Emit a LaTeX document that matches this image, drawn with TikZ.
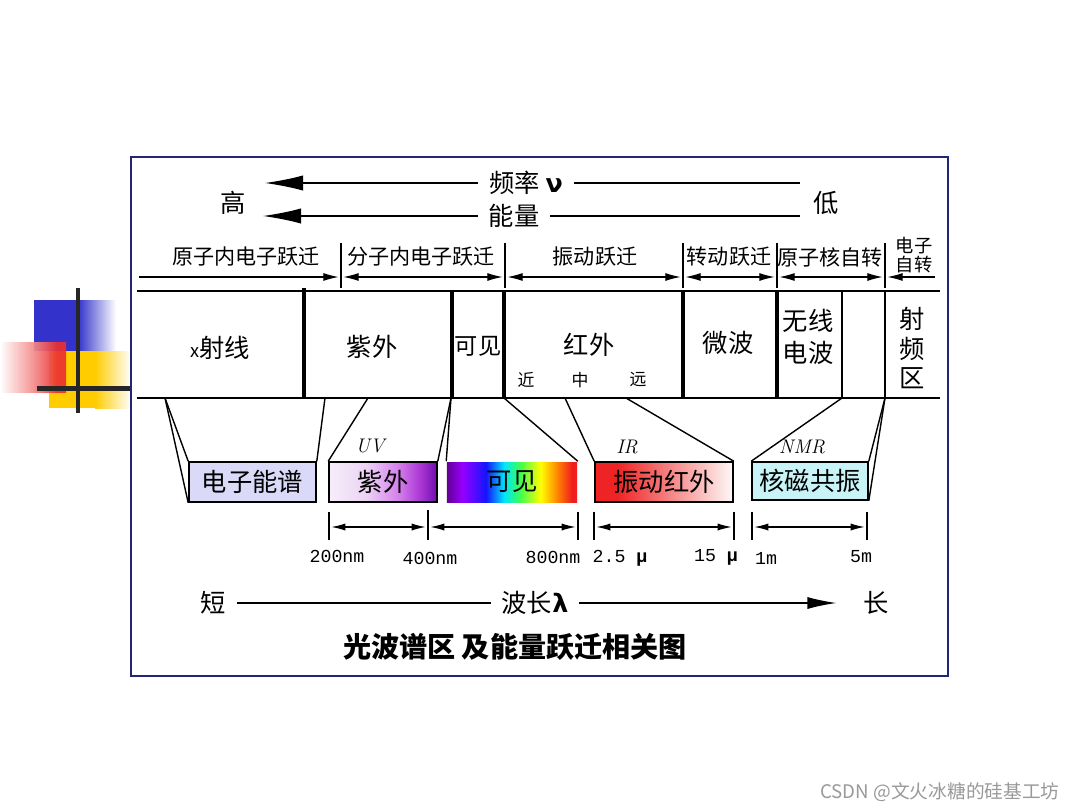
\documentclass[tikz,border=0pt]{standalone}
\usepackage{fontspec}
\usepackage{tikz}
\usetikzlibrary{arrows.meta}
\newfontfamily\cjk{Noto Sans CJK SC}
\newfontfamily\mono{Liberation Mono}
\newfontfamily\grk{DejaVu Sans}
\definecolor{frameblue}{RGB}{36,36,120}
\definecolor{lavender}{RGB}{218,218,248}
\definecolor{nmrcyan}{RGB}{200,244,248}
\definecolor{irred}{RGB}{238,36,36}
\definecolor{irwhite}{RGB}{255,248,248}
\definecolor{decoblue}{RGB}{51,51,204}
\definecolor{decoyellow}{RGB}{255,204,0}
\definecolor{decored}{RGB}{236,48,48}
\definecolor{rb1}{RGB}{100,0,150}
\definecolor{rb2}{RGB}{150,0,255}
\definecolor{rb3}{RGB}{20,20,255}
\definecolor{rb4}{RGB}{0,230,255}
\definecolor{rb5}{RGB}{60,255,80}
\definecolor{rb6}{RGB}{255,255,0}
\definecolor{rb7}{RGB}{255,140,0}
\definecolor{rb8}{RGB}{240,30,30}
\definecolor{uv0}{RGB}{246,238,250}
\definecolor{uv1}{RGB}{236,212,244}
\definecolor{uv2}{RGB}{214,128,236}
\definecolor{uv3}{RGB}{172,56,214}
\definecolor{uv4}{RGB}{110,14,176}
\pgfdeclarehorizontalshading{rainbow}{100bp}{color(0bp)=(rb1); color(25bp)=(rb1); color(31bp)=(rb2); color(40bp)=(rb3); color(47bp)=(rb4); color(53bp)=(rb5); color(61bp)=(rb6); color(67bp)=(rb7); color(73bp)=(rb8); color(100bp)=(rb8)}
\pgfdeclarehorizontalshading{uvshade}{100bp}{color(0bp)=(uv0); color(25bp)=(uv0); color(42bp)=(uv1); color(57bp)=(uv2); color(67bp)=(uv3); color(75bp)=(uv4); color(100bp)=(uv4)}
\pgfdeclarehorizontalshading{irshade}{100bp}{color(0bp)=(irred); color(25bp)=(irred); color(33bp)=(irred); color(75bp)=(irwhite); color(100bp)=(irwhite)}
\pgfdeclarehorizontalshading{redfade}{100bp}{color(0bp)=(white); color(25bp)=(white); color(50bp)=(decored!55); color(68bp)=(decored); color(75bp)=(decored); color(100bp)=(decored)}

\begin{document}
\begin{tikzpicture}[
    x=0.025cm, y=-0.025cm,
    lbl/.style={font=\cjk\fontsize{18}{22}\selectfont, inner ysep=0pt, inner xsep=0.27cm},
    trans/.style={font=\cjk\fontsize{15}{18}\selectfont, inner sep=0pt},
    band/.style={font=\cjk\fontsize{18}{22.8}\selectfont, inner sep=0pt, align=center},
    sub/.style={font=\cjk\fontsize{12}{14}\selectfont, inner sep=0pt},
    spec/.style={rectangle, draw, line width=1.1pt, minimum height=1cm, inner sep=0pt, font=\cjk\fontsize{18}{22}\selectfont},
    tag/.style={font=\itshape\fontsize{14}{16}\selectfont, inner sep=0pt},
    wl/.style={font=\mono\fontsize{13}{15}\selectfont, inner sep=0pt},
    thinln/.style={line width=0.8pt},
    bigarr/.style={line width=0.8pt, -{Latex[length=0.95cm, width=0.38cm]}},
    botarr/.style={line width=0.8pt, -{Latex[length=0.72cm, width=0.3cm]}},
    row/.style={line width=0.8pt, shorten <=0.06cm, shorten >=0.06cm},
    bar/.style={line width=2.8pt},
    feed/.style={line width=1pt}
]
    \useasboundingbox (0,0) rectangle (1080,810);
    \fill[white] (0,0) rectangle (1080,810);

    % slide decoration
    \fill[decoblue] (34,300) rectangle (78,351);
    \shade[left color=decoblue, right color=white] (78,300) rectangle (116,351);
    \fill[decoyellow] (49,351) rectangle (95,408);
    \shade[left color=decoyellow, right color=white] (95,351) rectangle (131,408);
    \shade[shading=redfade, opacity=0.92] (0,342) rectangle (66,392);
    \fill[black!85] (75.5,288) rectangle (79.5,413);
    \fill[black!85] (37,386) rectangle (131,391);

    % frame
    \draw[frameblue, line width=1.4pt] (131,157) rectangle (948,676);

    % frequency / energy
    \node[lbl] (gao) at (233,203) {高};
    \node[lbl] (di) at (826,203) {低};
    \node[lbl] (freq) at (526,183) {频率 {\grk\bfseries ν}};
    \node[lbl] (energy) at (514,216) {能量};
    \coordinate (fL) at (265,183);
    \coordinate (fR) at (800,183);
    \coordinate (eL) at (263,216);
    \coordinate (eR) at (800,216);
    \draw[bigarr] (freq.west) -- (fL);
    \draw[thinln] (freq.east) -- (fR);
    \draw[bigarr] (energy.west) -- (eL);
    \draw[thinln] (energy.east) -- (eR);

    % transitions
    \node[trans] (t1) at (246,257) {原子内电子跃迁};
    \node[trans] (t2) at (421,257) {分子内电子跃迁};
    \node[trans] (t3) at (595,257) {振动跃迁};
    \node[trans] (t4) at (729,257) {转动跃迁};
    \node[trans] (t5) at (830,257) {原子核自转};
    \node[sub, align=center, font=\cjk\fontsize{13}{14}\selectfont] (t6) at (914,255) {电子\\自转};

    \draw[thinln] (341,243) -- (341,288);
    \draw[thinln] (505,243) -- (505,288);
    \draw[thinln] (683,243) -- (683,288);
    \draw[thinln] (777,243) -- (777,288);
    \draw[thinln] (885,243) -- (885,288);

    \coordinate (s0) at (137,277);
    \coordinate (s1) at (341,277);
    \coordinate (s2) at (505,277);
    \coordinate (s3) at (683,277);
    \coordinate (s4) at (777,277);
    \coordinate (s5) at (885,277);
    \coordinate (s6) at (937,277);
    \draw[row, -{Latex[length=0.38cm, width=0.2cm]}] (s0) -- (s1);
    \draw[row, {Latex[length=0.38cm, width=0.2cm]}-{Latex[length=0.38cm, width=0.2cm]}] (s1) -- (s2);
    \draw[row, {Latex[length=0.38cm, width=0.2cm]}-{Latex[length=0.38cm, width=0.2cm]}] (s2) -- (s3);
    \draw[row, {Latex[length=0.38cm, width=0.2cm]}-{Latex[length=0.38cm, width=0.2cm]}] (s3) -- (s4);
    \draw[row, {Latex[length=0.38cm, width=0.2cm]}-{Latex[length=0.38cm, width=0.2cm]}] (s4) -- (s5);
    \draw[row, {Latex[length=0.38cm, width=0.2cm]}-] (s5) -- (s6);

    % band
    \draw[thinln] (137,291) -- (940,291);
    \draw[thinln] (137,398) -- (940,398);
    \draw[bar] (304,288) -- (304,398);
    \draw[bar] (452,291) -- (452,398);
    \draw[bar] (504,291) -- (504,398);
    \draw[bar] (683,291) -- (683,398);
    \draw[bar] (777,291) -- (777,398);
    \draw[thinln] (842,291) -- (842,398);
    \draw[thinln] (885,291) -- (885,398);

    \node[band] (xray) at (220,348) {{\fontsize{13}{15}\selectfont x}射线};
    \node[band] (uvb) at (372,347) {紫外};
    \node[band, font=\cjk\fontsize{16.5}{20}\selectfont] (visb) at (478,346) {可见};
    \node[band] (irb) at (589,345) {红外};
    \node[sub] (near) at (526,380) {近};
    \node[sub] (mid) at (580,380) {中};
    \node[sub] (far) at (638,380) {远};
    \node[band] (mwb) at (728,343) {微波};
    \node[band] (radiob) at (808,337) {无线\\电波};
    \node[band, font=\cjk\fontsize{18}{21.3}\selectfont] (rfb) at (912,348) {射\\频\\区};

    % spectra
    \node[spec, fill=lavender, minimum width=3.175cm] (ebox) at (252.5,482) {电子能谱};
    \node[spec, shade, shading=uvshade, minimum width=2.7cm] (uvbox) at (383,482) {紫外};
    \node[spec, draw=none, shade, shading=rainbow, minimum width=3.25cm] (visbox) at (512,482) {可见};
    \node[spec, shade, shading=irshade, minimum width=3.45cm] (irbox) at (664,482) {振动红外};
    \node[spec, fill=nmrcyan, minimum width=2.9cm, minimum height=0.95cm] (nmrbox) at (810,481) {核磁共振};

    \node[tag] (uvtag) at (370,446) {UV};
    \node[tag] (irtag) at (627,447) {IR};
    \node[tag] (nmrtag) at (802,447) {NMR};

    \coordinate (p1) at (165,398);
    \coordinate (p2) at (325,398);
    \coordinate (p3) at (368,398);
    \coordinate (p4) at (451,398);
    \coordinate (p5) at (504,398);
    \coordinate (p6) at (565,398);
    \coordinate (p7) at (626,398);
    \coordinate (p8) at (842,398);
    \coordinate (p9) at (885,398);
    \draw[feed] (p1) -- (ebox.north west);
    \draw[feed] (p1) -- (ebox.south west);
    \draw[feed] (p2) -- (ebox.north east);
    \draw[feed] (p3) -- (uvbox.north west);
    \draw[feed] (p4) -- (uvbox.north east);
    \draw[feed] (p4) -- (visbox.north west);
    \draw[feed] (p5) -- (visbox.north east);
    \draw[feed] (p6) -- (irbox.north west);
    \draw[feed] (p7) -- (irbox.north east);
    \draw[feed] (p8) -- (nmrbox.north west);
    \draw[feed] (p9) -- (nmrbox.north east);
    \draw[feed] (p9) -- (nmrbox.south east);

    % wavelength ranges
    \draw[thinln] (329,512) -- (329,540);
    \draw[thinln] (428,510) -- (428,540);
    \draw[thinln] (578,512) -- (578,540);
    \draw[thinln] (594,512) -- (594,540);
    \draw[thinln] (734,512) -- (734,540);
    \draw[thinln] (752,512) -- (752,540);
    \draw[thinln] (867,512) -- (867,540);
    \coordinate (d1) at (329,527);
    \coordinate (d2) at (428,527);
    \coordinate (d3) at (578,527);
    \coordinate (d4) at (594,527);
    \coordinate (d5) at (734,527);
    \coordinate (d6) at (752,527);
    \coordinate (d7) at (867,527);
    \draw[row, {Latex[length=0.35cm, width=0.18cm]}-{Latex[length=0.35cm, width=0.18cm]}] (d1) -- (d2);
    \draw[row, {Latex[length=0.35cm, width=0.18cm]}-{Latex[length=0.35cm, width=0.18cm]}] (d2) -- (d3);
    \draw[row, {Latex[length=0.35cm, width=0.18cm]}-{Latex[length=0.35cm, width=0.18cm]}] (d4) -- (d5);
    \draw[row, {Latex[length=0.35cm, width=0.18cm]}-{Latex[length=0.35cm, width=0.18cm]}] (d6) -- (d7);

    \node[wl] (w200) at (337,556) {200nm};
    \node[wl] (w400) at (430,558) {400nm};
    \node[wl] (w800) at (553,557) {800nm};
    \node[wl] (w25) at (620,558) {2.5 {\bfseries μ}};
    \node[wl] (w15) at (716,557) {15 {\bfseries μ}};
    \node[wl] (w1m) at (766,558) {1m};
    \node[wl] (w5m) at (861,557) {5m};

    % wavelength axis
    \node[lbl] (short) at (213,603) {短};
    \node[lbl] (wave) at (535,603) {波长{\grk\bfseries λ}};
    \node[lbl] (long) at (876,603) {长};
    \draw[thinln] (short.east) -- (wave.west);
    \draw[botarr, shorten >=0.4cm] (wave.east) -- (long.west);

    \node[font=\cjk\bfseries\fontsize{20}{24}\selectfont, inner sep=0pt] (title) at (515,647) {光波谱区 及能量跃迁相关图};

    \node[font=\cjk\fontsize{13.3}{15}\selectfont, text=black!40, inner sep=0pt] (mark) at (940,792) {CSDN @文火冰糖的硅基工坊};
\end{tikzpicture}
\end{document}
